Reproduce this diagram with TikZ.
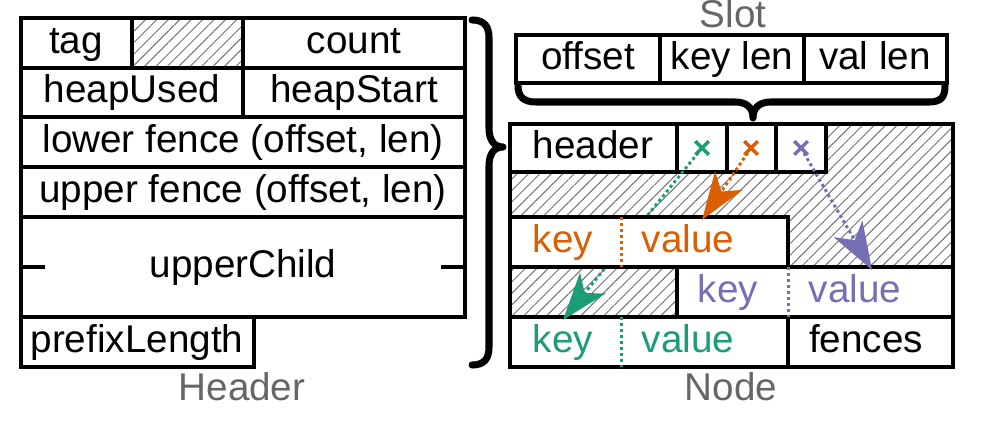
\documentclass[tikz,border=0pt]{standalone}
\usepackage{fontspec}
\setmainfont{Liberation Sans}
\usetikzlibrary{arrows.meta}
\usetikzlibrary{patterns.meta}
\usetikzlibrary{shapes.misc}
\definecolor{kvgreen}{HTML}{1B9E77}
\definecolor{kvorange}{HTML}{D95F02}
\definecolor{kvpurple}{HTML}{7570B3}
\definecolor{capgray}{HTML}{666666}
\tikzset{field/.style = {draw, line width = 2pt, fill = white}}
\tikzset{hatch/.style = {pattern = {Lines[angle = 45, distance = 4.6pt, line width = 0.55pt]}, pattern color = black!55}}
\tikzset{lbl/.style = {anchor = base, inner sep = 0, font = \fontsize{22}{26}\selectfont}}
\tikzset{caption/.style = {lbl, text = capgray}}
\tikzset{brace/.style = {line width = 4pt, line cap = round, line join = round}}
\tikzset{slotx/.style = {cross out, draw = #1, line width = 2pt, minimum size = 0.2cm, inner sep = 0}}
\tikzset{divider/.style = {#1, line width = 1.7pt, dash pattern = on 1.7pt off 1.7pt}}
\tikzset{ptr/.style = {#1, line width = 1.7pt, dash pattern = on 1.7pt off 1.7pt,
    -{Stealth[length = 0.95cm, width = 0.66cm, inset = 0.26cm]}}}

\begin{document}
\begin{tikzpicture}[x = 0.02cm, y = -0.02cm]
      \useasboundingbox (0, 0) rectangle (986, 428);

      \draw [field] (21, 18) rectangle (132, 68);
      \draw [line width = 2.4pt, hatch] (132, 18) rectangle (243, 68);
      \draw [field] (243, 18) rectangle (465, 68);
      \draw [field] (21, 68) rectangle (243, 117);
      \draw [field] (243, 68) rectangle (465, 117);
      \draw [field] (21, 117) rectangle (465, 167);
      \draw [field] (21, 167) rectangle (465, 217);
      \draw [field] (21, 217) rectangle (465, 317);
      \draw [field] (21, 317) rectangle (254, 367);
      \draw [line width = 2pt] (21, 267) -- (45, 267);
      \draw [line width = 2pt] (441, 267) -- (465, 267);

      \node [lbl] (tag) at (76, 54) {tag};
      \node [lbl] (count) at (354, 54) {count};
      \node [lbl] (heapused) at (132, 103) {heapUsed};
      \node [lbl] (heapstart) at (354, 103) {heapStart};
      \node [lbl] (lowerfence) at (243, 153) {lower fence (offset, len)};
      \node [lbl] (upperfence) at (243, 203) {upper fence (offset, len)};
      \node [lbl] (upperchild) at (243, 278) {upperChild};
      \node [lbl] (prefixlen) at (137, 353) {prefixLength};
      \node [caption] (headercap) at (242, 400) {Header};

      \draw [brace] (472, 20) .. controls (484, 20) and (489, 26) .. (489, 38)
        -- (489, 128) .. controls (489, 140) and (494, 147) .. (503, 147)
        .. controls (494, 147) and (489, 154) .. (489, 166)
        -- (489, 347) .. controls (489, 359) and (484, 365) .. (472, 365);

      \draw [field] (516, 35) rectangle (660, 83);
      \draw [field] (660, 35) rectangle (804, 83);
      \draw [field] (804, 35) rectangle (947, 83);
      \node [lbl] (offset) at (588, 70) {offset};
      \node [lbl] (keylen) at (732, 70) {key len};
      \node [lbl] (vallen) at (875, 70) {val len};
      \node [caption] (slotcap) at (733, 28) {Slot};

      \draw [brace] (518, 86) .. controls (518, 97) and (524, 102) .. (536, 102)
        -- (735, 102) .. controls (747, 102) and (753, 108) .. (753, 118)
        .. controls (753, 108) and (759, 102) .. (771, 102)
        -- (929, 102) .. controls (941, 102) and (945, 97) .. (945, 86);

      \fill [hatch] (510, 124) rectangle (953, 367);
      \draw [field] (510, 124) rectangle (677, 172);
      \draw [field] (677, 124) rectangle (727, 172);
      \draw [field] (727, 124) rectangle (776, 172);
      \draw [field] (776, 124) rectangle (826, 172);
      \draw [field] (677, 267) rectangle (953, 317);
      \draw [field] (510, 317) rectangle (788, 367);
      \draw [field] (788, 317) rectangle (953, 367);

      \node [slotx = kvgreen] (xg) at (702, 148) {};
      \node [slotx = kvorange] (xo) at (751, 148) {};
      \node [slotx = kvpurple] (xp) at (801, 148) {};
      \coordinate (tg) at (563, 320);
      \coordinate (to) at (702, 220);
      \coordinate (tp) at (872, 270);
      \draw [ptr = kvgreen] (xg.center) -- (tg);

      \draw [field] (510, 217) rectangle (788, 267);
      \draw [line width = 2pt] (510, 124) rectangle (953, 367);

      \draw [divider = kvorange] (621, 217) -- (621, 267);
      \draw [divider = kvpurple] (788, 267) -- (788, 317);
      \draw [divider = kvgreen] (621, 317) -- (621, 367);

      \node [lbl] (header) at (593, 159) {header};
      \node [lbl, text = kvorange] (keyo) at (563, 253) {key};
      \node [lbl, text = kvorange] (valo) at (688, 253) {value};
      \node [lbl, text = kvpurple] (keyp) at (728, 303) {key};
      \node [lbl, text = kvpurple] (valp) at (855, 303) {value};
      \node [lbl, text = kvgreen] (keyg) at (563, 353) {key};
      \node [lbl, text = kvgreen] (valg) at (688, 353) {value};
      \node [lbl] (fences) at (866, 353) {fences};
      \node [caption] (nodecap) at (731, 400) {Node};

      \draw [ptr = kvorange] (xo.center) -- (to);
      \draw [ptr = kvpurple] (xp.center) -- (tp);
    \end{tikzpicture}
\end{document}
